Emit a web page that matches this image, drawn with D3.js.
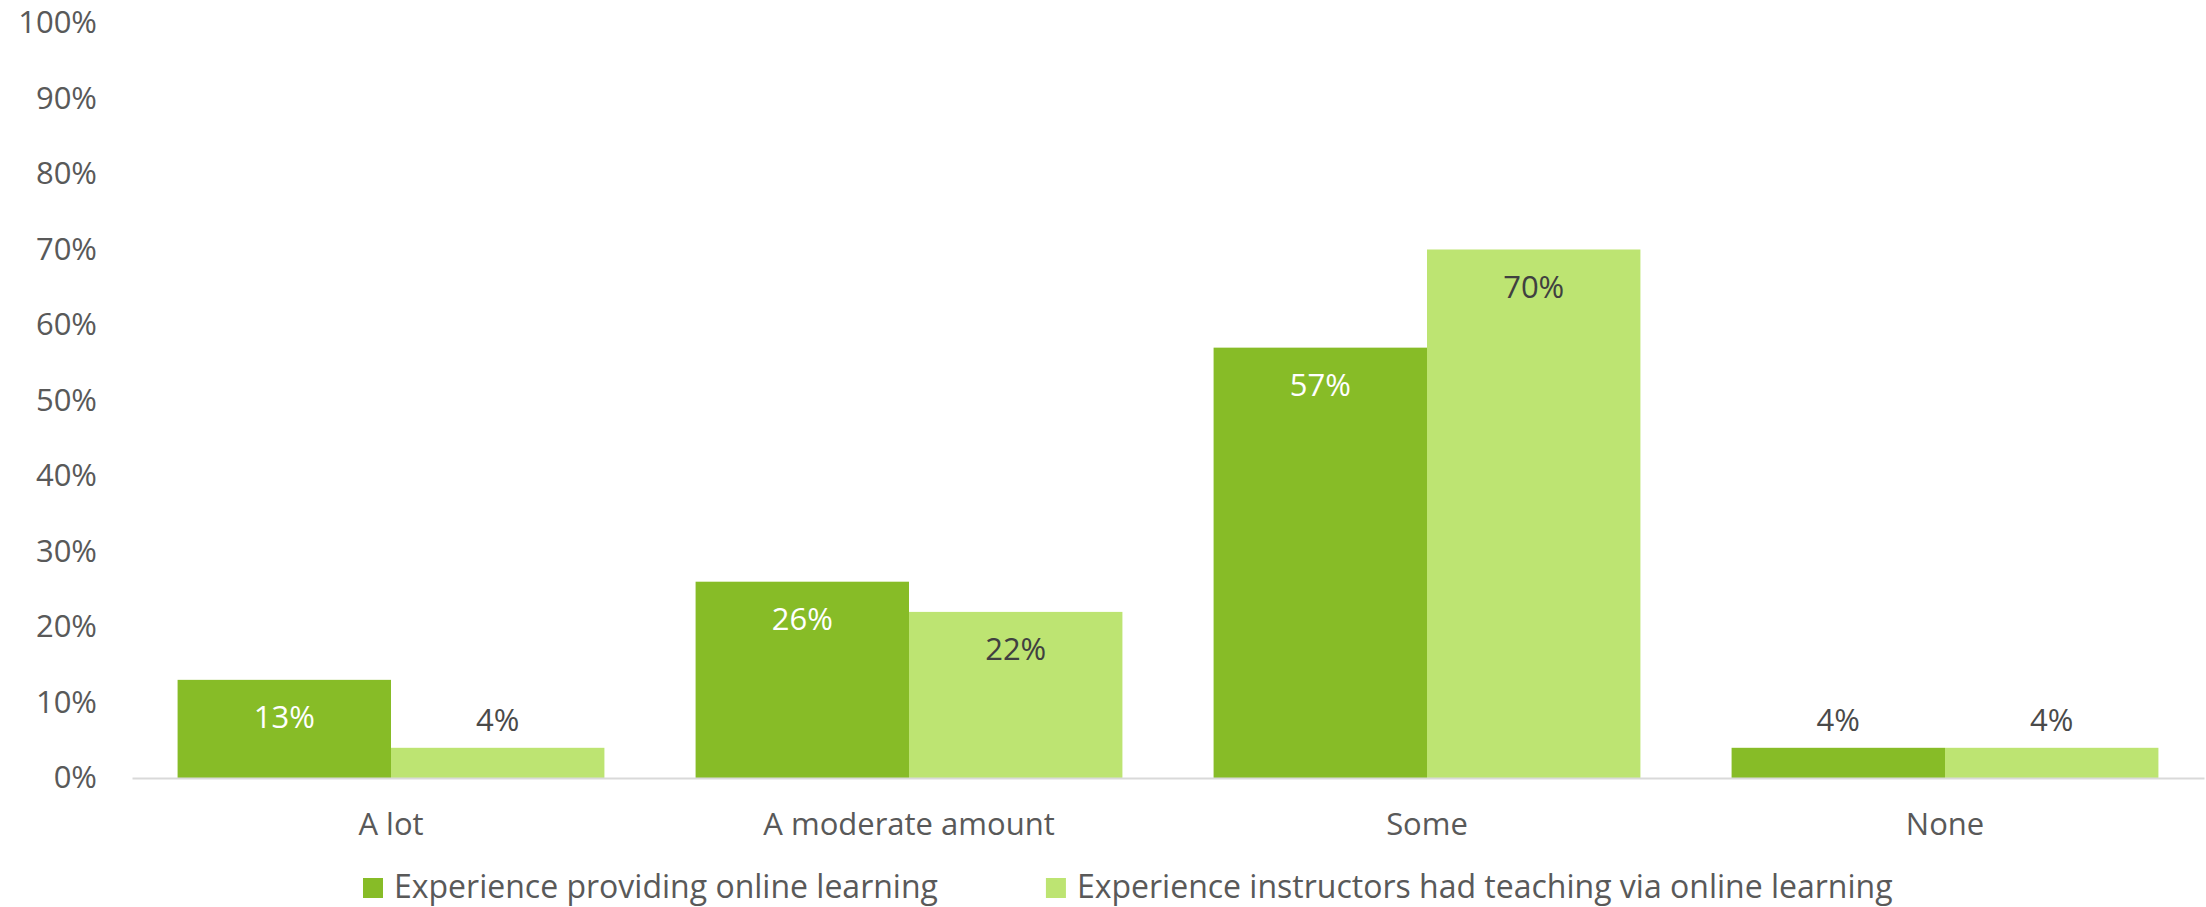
<!DOCTYPE html>
<html lang="en">
<head>
    <meta charset="UTF-8">
    <script src="https://cdn.jsdelivr.net/npm/d3@7/dist/d3.min.js"></script>
    <title>Online learning experience</title>
    <style>
        * { box-sizing: border-box; margin: 0; padding: 0; }
        body, html { width: 100%; height: 100%; background: #fff; }
        svg text { font-family: "Open Sans", "Noto Sans", sans-serif; }
    </style>
</head>
<body>
    <svg id="chart" width="2206" height="907"></svg>
    <script type="text/javascript">
      var categories = ['A lot', 'A moderate amount', 'Some', 'None'];
      var seriesNames = ['Experience providing online learning', 'Experience instructors had teaching via online learning'];
      var providing = [0.13, 0.26, 0.57, 0.04];
      var instructors = [0.04, 0.22, 0.70, 0.04];
      var yTicks = [0, 0.1, 0.2, 0.3, 0.4, 0.5, 0.6, 0.7, 0.8, 0.9, 1];
      var colors = ['#87bc27', '#bde472'];
      var labelColors = ['#ffffff', '#404040'];

      var values = [providing, instructors];
      var fontSize = 31;

      var svg = d3.select('#chart');

      var x0 = d3.scaleBand()
        .domain(categories)
        .range([132, 2204])
        .paddingInner(0.176)
        .paddingOuter(0.088);

      var x1 = d3.scaleBand()
        .domain(d3.range(seriesNames.length))
        .range([0, x0.bandwidth()]);

      var y = d3.scaleLinear()
        .domain([0, 1])
        .range([778, 23]);

      // y axis, labels only
      var yAxis = svg.append('g')
        .attr('transform', 'translate(132,0)')
        .call(d3.axisLeft(y).tickValues(yTicks).tickFormat(d3.format('.0%')).tickSize(0).tickPadding(35));
      yAxis.select('.domain').remove();
      yAxis.selectAll('text')
        .attr('fill', '#595959')
        .style('font-size', fontSize + 'px')
        .style('font-family', '"Open Sans", sans-serif');

      // bars
      var groups = svg.append('g').selectAll('g')
        .data(categories)
        .enter().append('g')
        .attr('transform', function (d) { return 'translate(' + x0(d) + ',0)'; });

      groups.selectAll('rect')
        .data(function (d, i) { return values.map(function (v, s) { return { s: s, v: v[i] }; }); })
        .enter().append('rect')
        .attr('x', function (d) { return x1(d.s); })
        .attr('y', function (d) { return y(d.v); })
        .attr('width', x1.bandwidth())
        .attr('height', function (d) { return y(0) - y(d.v); })
        .attr('fill', function (d) { return colors[d.s]; });

      groups.selectAll('text')
        .data(function (d, i) { return values.map(function (v, s) { return { s: s, v: v[i] }; }); })
        .enter().append('text')
        .attr('x', function (d) { return x1(d.s) + x1.bandwidth() / 2; })
        .attr('y', function (d) { return d.v >= 0.1 ? y(d.v) + 48 : y(d.v) - 17; })
        .attr('text-anchor', 'middle')
        .attr('fill', function (d) { return d.v >= 0.1 ? labelColors[d.s] : '#4a4a4a'; })
        .style('font-size', fontSize + 'px')
        .text(function (d) { return Math.round(d.v * 100) + '%'; });

      // x axis
      var xAxis = svg.append('g')
        .attr('transform', 'translate(0,778)')
        .call(d3.axisBottom(x0).tickSize(0).tickSizeOuter(0).tickPadding(0));
      xAxis.select('.domain')
        .attr('stroke', '#d9d9d9')
        .attr('stroke-width', 2);
      xAxis.selectAll('text')
        .attr('dy', null)
        .attr('y', 57)
        .attr('fill', '#595959')
        .style('font-size', fontSize + 'px')
        .style('font-family', '"Open Sans", sans-serif');

      // legend
      var legend = svg.append('g');
      var lx = 363;
      seriesNames.forEach(function (name, s) {
        legend.append('rect')
          .attr('x', lx)
          .attr('y', 878)
          .attr('width', 20)
          .attr('height', 20)
          .attr('fill', colors[s]);
        var t = legend.append('text')
          .attr('x', lx + 31)
          .attr('y', 898)
          .attr('fill', '#595959')
          .style('font-size', '32px')
          .text(name);
        lx = lx + 31 + t.node().getComputedTextLength() + 108;
      });
    </script>
</body>
</html>
